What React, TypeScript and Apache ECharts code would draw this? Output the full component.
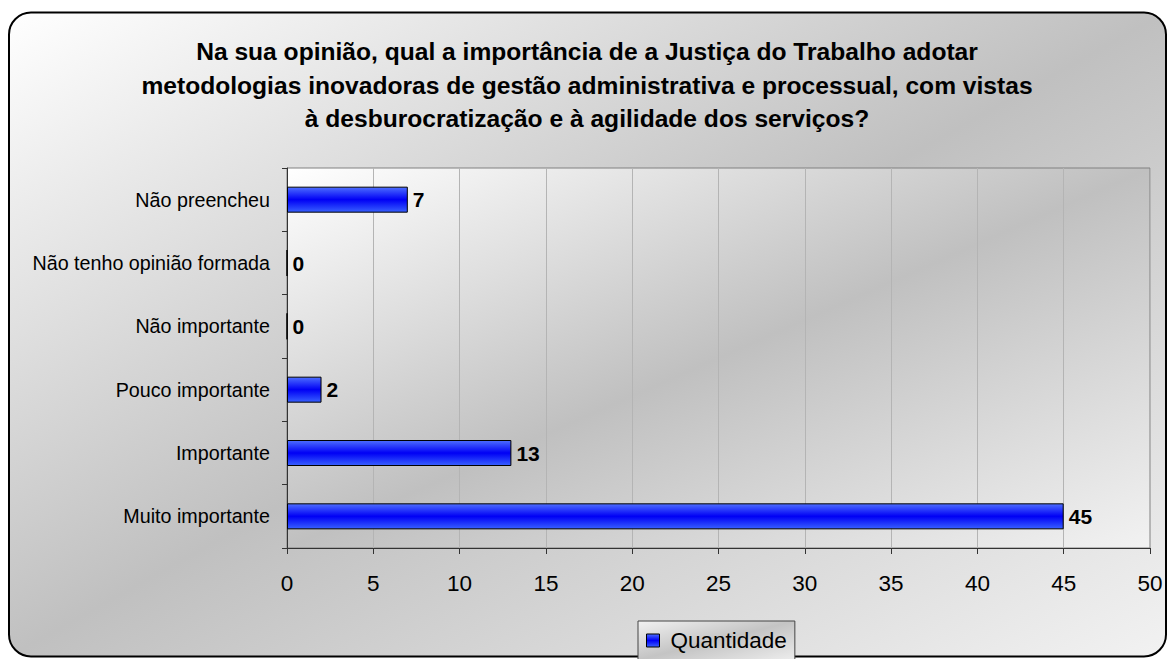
import React, { useEffect, useRef } from "react";
import * as echarts from "echarts";

const categories = [
  "Muito importante",
  "Importante",
  "Pouco importante",
  "Não importante",
  "Não tenho opinião formada",
  "Não preencheu",
];
const values = [45, 13, 2, 0, 0, 7];
const seriesName = "Quantidade";
const titleLines = [
  "Na sua opinião, qual a importância de a Justiça do Trabalho adotar",
  "metodologias inovadoras de gestão administrativa e processual, com vistas",
  "à desburocratização e à agilidade dos serviços?",
];
const xMin = 0;
const xMax = 50;
const xStep = 5;

const FONT = "'Liberation Sans', Arial, sans-serif";

const bgGrad = () =>
  new echarts.graphic.LinearGradient(0, 0, 1, 1, [
    { offset: 0, color: "#ffffff" },
    { offset: 0.5, color: "#c0c0c0" },
    { offset: 1, color: "#f2f2f2" },
  ]);

export default function App() {
  const ref = useRef<HTMLDivElement>(null);
  useEffect(() => {
    document.body.style.margin = "0";
    const chart = echarts.init(ref.current!, null, { renderer: "svg" });
    const barColor = new echarts.graphic.LinearGradient(0, 0, 0, 1, [
      { offset: 0, color: "#4d6eff" },
      { offset: 0.5, color: "#0000f5" },
      { offset: 1, color: "#3860ff" },
    ]);
    chart.setOption({
      animation: false,
      graphic: [
        {
          type: "rect",
          z: -10,
          silent: true,
          shape: { x: 9, y: 12.5, width: 1157, height: 644, r: 22 },
          style: { fill: bgGrad(), stroke: "#000", lineWidth: 2 },
        },
      ],
      title: {
        text: titleLines.join("\n"),
        left: 582,
        top: 30,
        textAlign: "center",
        textStyle: {
          fontFamily: FONT,
          fontSize: 24.6,
          fontWeight: "bold",
          color: "#000",
          lineHeight: 33.5,
        },
      },
      legend: {
        data: [seriesName],
        left: 638,
        top: 621,
        padding: [8, 8, 8, 8],
        itemWidth: 13,
        itemHeight: 13,
        icon: "rect",
        backgroundColor: new echarts.graphic.LinearGradient(0, 0, 1, 1, [
          { offset: 0, color: "#f2f2f2" },
          { offset: 0.5, color: "#c4c4c4" },
          { offset: 1, color: "#ededed" },
        ]),
        borderColor: "#444",
        borderWidth: 1,
        itemStyle: { borderColor: "#000", borderWidth: 1 },
        textStyle: { fontFamily: FONT, fontSize: 22.5, color: "#000", padding: [0, 0, 0, 6] },
      },
      grid: {
        left: 287,
        right: 19,
        top: 168,
        bottom: 111,
        show: true,
        backgroundColor: bgGrad(),
        borderColor: "#808080",
        borderWidth: 1,
      },
      xAxis: {
        type: "value",
        min: xMin,
        max: xMax,
        interval: xStep,
        axisLine: { show: true, lineStyle: { color: "#333", width: 1 } },
        axisTick: { show: true, length: 6, lineStyle: { color: "#333" } },
        axisLabel: { fontFamily: FONT, fontSize: 22.5, color: "#000", margin: 24 },
        splitLine: { show: true, lineStyle: { color: "#b4b4b4", width: 1 } },
      },
      yAxis: {
        type: "category",
        data: categories,
        axisLine: { show: true, lineStyle: { color: "#333", width: 1 } },
        axisTick: { show: true, length: 5, lineStyle: { color: "#333" } },
        axisLabel: { fontFamily: FONT, fontSize: 19.7, color: "#000", margin: 17 },
        splitLine: { show: false },
      },
      series: [
        {
          name: seriesName,
          type: "bar",
          data: values,
          barWidth: 26,
          itemStyle: { color: barColor, borderColor: "#000", borderWidth: 1 },
          label: {
            show: true,
            position: "right",
            distance: 5,
            fontFamily: FONT,
            fontSize: 21,
            fontWeight: "bold",
            color: "#000",
          },
        },
      ],
    });
    return () => chart.dispose();
  }, []);
  return <div ref={ref} style={{ width: 1169, height: 659 }} />;
}
